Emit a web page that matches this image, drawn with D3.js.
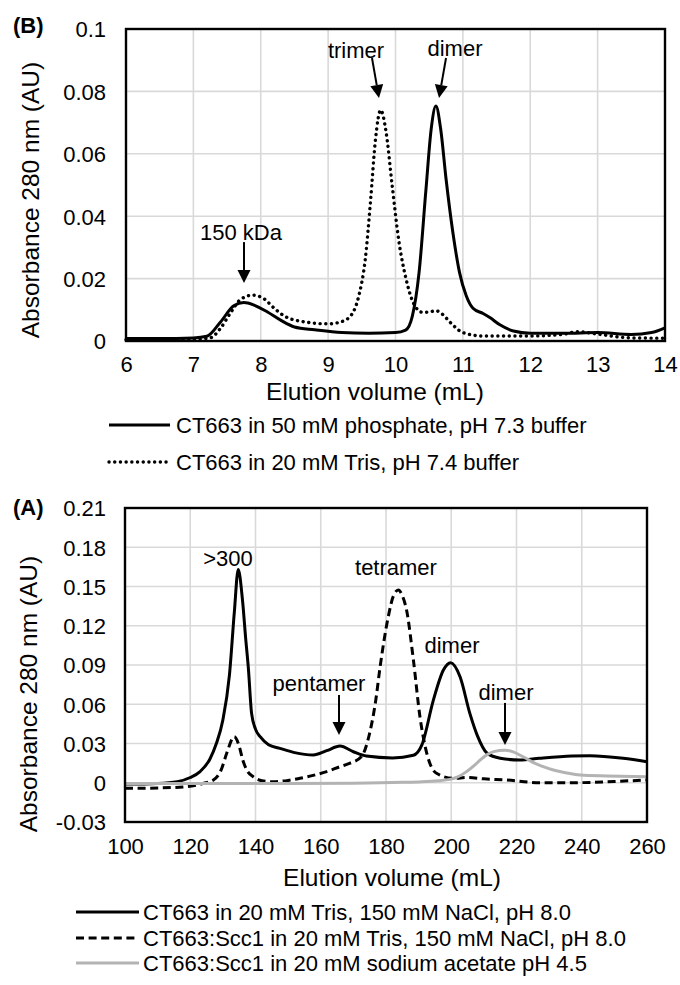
<!DOCTYPE html>
<html><head><meta charset="utf-8">
<script src="https://cdn.jsdelivr.net/npm/d3@7/dist/d3.min.js"></script>
<style>
body{margin:0;background:#fff}
svg{display:block}
text{font-family:"Liberation Sans",Arial,sans-serif;fill:#000}
</style>
</head><body>
<svg id="c" width="680" height="985"></svg>
<script>
// ---------- Panel B data ----------
const bXTicks = [6,7,8,9,10,11,12,13,14];
const bYTicks = [0,0.02,0.04,0.06,0.08,0.1];
const bYLabels = ["0","0.02","0.04","0.06","0.08","0.1"];
const phosX = [6.0,6.5,7.0,7.2,7.4,7.6,7.75,7.9,8.1,8.3,8.5,8.8,9.2,9.6,10.0,10.15,10.25,10.35,10.45,10.53,10.6,10.67,10.75,10.85,10.95,11.05,11.15,11.3,11.4,11.55,11.75,12.0,12.5,13.0,13.5,13.8,14.0];
const phosY = [0.0008,0.0008,0.001,0.0015,0.006,0.0113,0.0123,0.0115,0.0093,0.0066,0.0045,0.0036,0.0027,0.0025,0.0027,0.0035,0.008,0.022,0.048,0.068,0.0753,0.068,0.052,0.035,0.022,0.0145,0.0105,0.0088,0.0075,0.0052,0.0032,0.0025,0.0025,0.0027,0.0021,0.0027,0.0042];
const trisX = [6.0,7.0,7.25,7.4,7.55,7.7,7.88,8.05,8.2,8.35,8.6,9.0,9.2,9.35,9.45,9.55,9.63,9.7,9.78,9.86,9.95,10.05,10.15,10.27,10.4,10.5,10.6,10.7,10.82,11.0,11.3,12.0,12.5,12.7,13.0,13.5,14.0];
const trisY = [0.0004,0.0005,0.001,0.004,0.009,0.0133,0.0147,0.0135,0.0105,0.008,0.0063,0.0055,0.0062,0.0085,0.014,0.026,0.045,0.064,0.074,0.067,0.05,0.032,0.0205,0.012,0.0092,0.0093,0.0097,0.0085,0.0058,0.0027,0.0016,0.0016,0.0022,0.003,0.0022,0.001,0.0009];
const bLegend = ["CT663 in 50 mM phosphate, pH 7.3 buffer","CT663 in 20 mM Tris, pH 7.4 buffer"];
const bNotes = [
  {t:"trimer", x:9.414, y:0.0933, ax1:9.651, ay1:0.0907, ax2:9.755, ay2:0.0779},
  {t:"dimer", x:10.883, y:0.0939, ax1:10.75, ay1:0.0907, ax2:10.646, ay2:0.0779},
  {t:"150 kDa", x:7.707, y:0.0349, ax1:7.751, ay1:0.0317, ax2:7.751, ay2:0.0186}
];

// ---------- Panel A data ----------
const aXTicks = [100,120,140,160,180,200,220,240,260];
const aYTicks = [-0.03,0,0.03,0.06,0.09,0.12,0.15,0.18,0.21];
const aYLabels = ["-0.03","0","0.03","0.06","0.09","0.12","0.15","0.18","0.21"];
const nacl8X = [100,110,116,120,123,126,128,130,132,133.5,134.7,136,137,137.8,138.8,140,141.5,144,147.5,152,157.7,161.8,165.9,170,174,182,188.4,191,194.5,197.6,199.8,202.7,205.7,208,211,215,221,227,237,242.5,252.7,260];
const nacl8Y = [-0.001,-0.0005,0.0008,0.004,0.0085,0.018,0.03,0.048,0.082,0.13,0.163,0.14,0.11,0.088,0.053,0.041,0.035,0.029,0.0263,0.023,0.0212,0.0245,0.028,0.0237,0.0204,0.019,0.021,0.0289,0.063,0.0862,0.0918,0.081,0.053,0.036,0.0225,0.0187,0.0174,0.0187,0.0204,0.0207,0.0187,0.016];
const sccTrisX = [100,110,119,124,127,129.5,131.2,133.5,135,136.1,137.5,139.3,142,145.4,150,153.6,158,161.8,165.9,169,172.5,175,176.8,178.2,180.7,182.3,183.8,185,186.3,188.4,190.4,192.5,195.5,200.6,205,210,217,227,237,250,260];
const sccTrisY = [-0.0043,-0.004,-0.003,-0.0005,0.002,0.01,0.0227,0.0352,0.028,0.0174,0.009,0.0046,0.0015,0.0008,0.0018,0.0034,0.0058,0.0085,0.0123,0.015,0.02,0.038,0.062,0.0887,0.127,0.143,0.1473,0.143,0.132,0.0938,0.0505,0.0225,0.0072,0.0034,0.004,0.003,0.0021,0.0,0.0,0.001,0.0021];
const acetX = [100,150,170,185,191,196,199.6,202,204.7,207,209,211,213,216.5,219,221,223,225.2,228,231.3,235,239.5,247.7,260];
const acetY = [-0.0005,-0.0005,-0.0003,0.0003,0.0008,0.0016,0.0026,0.0045,0.0085,0.013,0.0177,0.0215,0.0238,0.0249,0.0236,0.0212,0.0185,0.0154,0.0125,0.0097,0.0076,0.0059,0.0052,0.0046];
const aLegend = ["CT663 in 20 mM Tris, 150 mM NaCl, pH 8.0","CT663:Scc1 in 20 mM Tris, 150 mM NaCl, pH 8.0","CT663:Scc1 in 20 mM sodium acetate pH 4.5"];
const aNotes = [
  {t:">300", x:131.57, y:0.1718},
  {t:"tetramer", x:183.06, y:0.1648},
  {t:"dimer", x:200.23, y:0.1053},
  {t:"pentamer", x:159.46, y:0.0762, ax1:165.59, ay1:0.0671, ax2:165.59, ay2:0.0365},
  {t:"dimer", x:216.78, y:0.0694, ax1:216.48, ay1:0.061, ax2:216.48, ay2:0.0289}
];

const svg = d3.select("#c");
const GRID = "#d9d9d9";

function arrow(g, x1, y1, x2, y2){
  const dx = x2-x1, dy = y2-y1, L = Math.hypot(dx,dy);
  const ux = dx/L, uy = dy/L, hl = 13, hw = 6.5;
  const bx = x2-ux*hl, by = y2-uy*hl;
  g.append("line").attr("x1",x1).attr("y1",y1).attr("x2",bx).attr("y2",by)
    .attr("stroke","#000").attr("stroke-width",2);
  g.append("path").attr("d",`M${x2},${y2}L${bx-uy*hw},${by+ux*hw}L${bx+uy*hw},${by-ux*hw}Z`).attr("fill","#000");
}

function panel(o){
  const x = d3.scaleLinear().domain(o.xd).range([o.l,o.r]);
  const y = d3.scaleLinear().domain(o.yd).range([o.b,o.t]);
  const g = svg.append("g");
  // grid
  g.selectAll(".vg").data(o.xt.slice(1,-1)).join("line")
    .attr("x1",d=>x(d)).attr("x2",d=>x(d)).attr("y1",o.t).attr("y2",o.b)
    .attr("stroke",GRID).attr("stroke-width",1.6);
  g.selectAll(".hg").data(o.yt.slice(1,-1)).join("line")
    .attr("x1",o.l).attr("x2",o.r).attr("y1",d=>y(d)).attr("y2",d=>y(d))
    .attr("stroke",GRID).attr("stroke-width",1.6);
  // series
  o.series.forEach(s=>{
    const pts = s.x.map((v,i)=>[v,s.y[i]]);
    g.append("path").datum(pts)
      .attr("d",d3.line().x(d=>x(d[0])).y(d=>y(d[1])).curve(d3.curveMonotoneX))
      .attr("fill","none").attr("stroke",s.color).attr("stroke-width",s.w)
      .attr("stroke-dasharray",s.dash||null).attr("stroke-linecap",s.cap||"butt")
      .attr("stroke-linejoin","round");
  });
  // frame
  g.append("rect").attr("x",o.l).attr("y",o.t).attr("width",o.r-o.l).attr("height",o.b-o.t)
    .attr("fill","none").attr("stroke","#000").attr("stroke-width",2.4);
  // axes labels
  const ax = g.append("g").attr("transform",`translate(0,${o.b})`)
    .call(d3.axisBottom(x).tickValues(o.xt).tickSize(0).tickPadding(0).tickFormat(d3.format("d")));
  ax.select(".domain").remove();
  ax.selectAll("text").attr("y",o.xlabDy).attr("dy",0).attr("font-size",22)
    .attr("font-family",'"Liberation Sans",Arial,sans-serif');
  const ay = g.append("g").attr("transform",`translate(${o.ylabX},0)`)
    .call(d3.axisLeft(y).tickValues(o.yt).tickSize(0).tickPadding(0).tickFormat((d,i)=>o.yl[i]));
  ay.select(".domain").remove();
  ay.selectAll("text").attr("x",0).attr("dy","0.36em").attr("font-size",22)
    .attr("font-family",'"Liberation Sans",Arial,sans-serif');
  // titles
  g.append("text").attr("x",o.xtX).attr("y",o.xtY).attr("text-anchor","middle")
    .attr("font-size",24.5).text("Elution volume (mL)");
  g.append("text").attr("transform",`translate(${o.ytX},${o.ytY}) rotate(-90)`)
    .attr("text-anchor","middle").attr("dy","0.35em").attr("font-size",24.5).text("Absorbance 280 nm (AU)");
  g.append("text").attr("x",o.pX).attr("y",o.pY).attr("dy","0.35em").attr("font-size",22)
    .attr("font-weight","bold").text(o.panel);
  // notes
  o.notes.forEach(n=>{
    g.append("text").attr("x",x(n.x)).attr("y",y(n.y)).attr("dy","0.35em")
      .attr("text-anchor","middle").attr("font-size",22).text(n.t);
    if(n.ax1!==undefined) arrow(g,x(n.ax1),y(n.ay1),x(n.ax2),y(n.ay2));
  });
  // legend
  o.series.forEach((s,i)=>{
    const ly = o.legY[i];
    g.append("line").attr("x1",o.legX1).attr("x2",o.legX2).attr("y1",ly).attr("y2",ly)
      .attr("stroke",s.color).attr("stroke-width",s.w).attr("stroke-dasharray",s.dash||null)
      .attr("stroke-linecap",s.cap||"butt");
    g.append("text").attr("x",o.legTX).attr("y",ly).attr("dy","0.35em").attr("font-size",22).text(o.legend[i]);
  });
}

panel({
  xd:[6,14], yd:[0,0.1], l:126, r:665, t:29, b:341,
  xt:bXTicks, yt:bYTicks, yl:bYLabels, xlabDy:31, ylabX:106,
  xtX:375, xtY:400, ytX:30, ytY:200, panel:"(B)", pX:13, pY:25,
  series:[
    {x:phosX,y:phosY,color:"#000",w:3},
    {x:trisX,y:trisY,color:"#000",w:3.4,dash:"0.1 5.6",cap:"round"}
  ],
  notes:bNotes, legend:bLegend, legY:[425,462], legX1:109, legX2:170, legTX:176
});
panel({
  xd:[100,260], yd:[-0.03,0.21], l:125, r:647, t:508, b:822,
  xt:aXTicks, yt:aYTicks, yl:aYLabels, xlabDy:32, ylabX:106,
  xtX:392, xtY:886, ytX:28, ytY:694, panel:"(A)", pX:13, pY:507,
  series:[
    {x:nacl8X,y:nacl8Y,color:"#000",w:3},
    {x:sccTrisX,y:sccTrisY,color:"#000",w:3,dash:"8 4.6"},
    {x:acetX,y:acetY,color:"#b3b3b3",w:3}
  ],
  notes:aNotes, legend:aLegend, legY:[912,938,963], legX1:76, legX2:139, legTX:143
});
</script>
</body></html>
